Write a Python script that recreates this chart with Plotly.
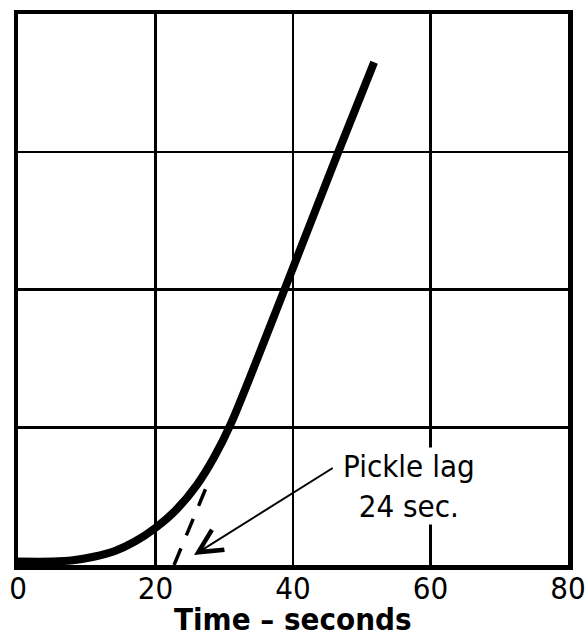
import plotly.graph_objects as go

# Data
time_s = [0, 5, 8, 11, 14, 17, 20, 23, 26, 28.5, 31, 39, 46.6, 51.8]
pickle_val = [0.025, 0.025, 0.035, 0.06, 0.10, 0.17, 0.27, 0.40, 0.58, 0.78, 1.03, 2.03, 3.0, 3.65]

tangent_time = [22.7, 27.4]
tangent_val = [0.0, 0.566]

x_ticks = [0, 20, 40, 60, 80]
x_tick_labels = ["0", "20", "40", "60", "80"]

arrow_tip = (25.6, 0.073)
arrow_tail = (46.0, 0.711)
label_pos = (56.8, 0.573)
label_text = "Pickle lag<br>24 sec."
x_title = "Time – seconds"

FONT = "DejaVu Sans Condensed, DejaVu Sans, sans-serif"

fig = go.Figure()
fig.add_trace(go.Scatter(
    x=time_s, y=pickle_val, mode="lines",
    line=dict(color="black", width=8, shape="spline", smoothing=0.8),
    showlegend=False, hoverinfo="skip"))
fig.add_trace(go.Scatter(
    x=tangent_time, y=tangent_val, mode="lines",
    line=dict(color="black", width=3.5, dash="18px,14px"),
    showlegend=False, hoverinfo="skip"))

fig.add_annotation(
    x=label_pos[0], y=label_pos[1], xref="x", yref="y",
    text=label_text, showarrow=False, bgcolor="white", borderpad=0,
    font=dict(family=FONT, size=31, color="black"), align="center")
fig.add_annotation(
    x=arrow_tip[0], y=arrow_tip[1], xref="x", yref="y",
    ax=arrow_tail[0], ay=arrow_tail[1], axref="x", ayref="y",
    text="", showarrow=True, arrowhead=5, arrowsize=2.3, arrowwidth=2,
    arrowcolor="black")
# x-axis title, placed just below the tick labels
fig.add_annotation(
    x=0.5, y=0, xref="paper", yref="paper", xanchor="center", yanchor="middle",
    yshift=-54, text=x_title, showarrow=False,
    font=dict(family=FONT, size=31, color="black", weight="bold"))

fig.update_xaxes(
    range=[0, 80], tickvals=x_ticks, ticktext=x_tick_labels,
    showgrid=True, gridcolor="black", gridwidth=2.5, zeroline=False,
    showline=True, linecolor="black", linewidth=4.5, mirror=True,
    ticks="", tickfont=dict(family=FONT, size=31, color="black"),
    ticklabelstandoff=-8, automargin=False)
fig.update_yaxes(
    range=[0, 4], dtick=1, showticklabels=False,
    showgrid=True, gridcolor="black", gridwidth=2.5, zeroline=False,
    showline=True, linecolor="black", linewidth=4.5, mirror=True, ticks="",
    automargin=False)

fig.update_layout(
    width=587, height=640,
    margin=dict(l=18, r=19, t=14, b=75, autoexpand=False),
    plot_bgcolor="white", paper_bgcolor="white",
    font=dict(family=FONT, color="black"))

# remove the browser's default page margin so the figure fills the window exactly
fig.write_html(
    "out.html",
    config={"displayModeBar": False, "staticPlot": True},
    post_script="document.body.style.margin='0';document.documentElement.style.overflow='hidden';")
